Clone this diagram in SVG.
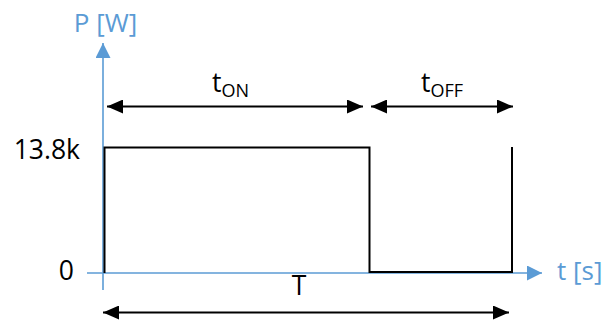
<svg xmlns="http://www.w3.org/2000/svg" width="606" height="320" viewBox="0 0 606 320">
<defs>
<style>
.lbl{font-family:"Open Sans","Liberation Sans",sans-serif;font-size:26.5px;fill:#000}
.ax{font-family:"Open Sans","Liberation Sans",sans-serif;font-size:26px;fill:#5B9BD5}
.sub{font-size:18px}
.axl{stroke:#5B9BD5;stroke-width:1.6;fill:none}
.sig{stroke:#000;stroke-width:2;fill:none}
.dim{stroke:#000;stroke-width:1.8;fill:none}
</style>
<marker id="ah" viewBox="0 0 16 14" refX="16" refY="7" markerWidth="16" markerHeight="14" markerUnits="userSpaceOnUse" orient="auto-start-reverse">
<path d="M0,0 L16,7 L0,14 Z" fill="#000"/>
</marker>
<marker id="bh" viewBox="0 0 15 15" refX="15" refY="7.5" markerWidth="15" markerHeight="15" markerUnits="userSpaceOnUse" orient="auto">
<path d="M0,0 L15,7.5 L0,15 Z" fill="#5B9BD5"/>
</marker>
</defs>
<rect width="606" height="320" fill="#fff"/>
<g id="axes">
<line class="axl" x1="103" y1="290" x2="103" y2="43" marker-end="url(#bh)"/>
<line class="axl" x1="87" y1="273" x2="542" y2="273" marker-end="url(#bh)"/>
<text class="ax" x="105.5" y="32" text-anchor="middle">P [W]</text>
<text class="ax" x="557" y="280">t [s]</text>
</g>
<g id="signal">
<polyline class="sig" points="104.5,273 104.5,147.5 369.5,147.5 369.5,272 512,272 512,147"/>
</g>
<g id="labels">
<text class="lbl" x="80" y="159" text-anchor="end">13.8k</text>
<text class="lbl" x="74" y="280" text-anchor="end">0</text>
<text class="lbl" x="299" y="295" text-anchor="middle">T</text>
<text class="lbl" x="212" y="92">t<tspan class="sub" dy="5">ON</tspan></text>
<text class="lbl" x="421" y="92">t<tspan class="sub" dy="5">OFF</tspan></text>
</g>
<g id="connectors">
<line class="dim" x1="107" y1="106.5" x2="363" y2="106.5" marker-start="url(#ah)" marker-end="url(#ah)"/>
<line class="dim" x1="371" y1="106.5" x2="513" y2="106.5" marker-start="url(#ah)" marker-end="url(#ah)"/>
<line class="dim" x1="103" y1="312.5" x2="509" y2="312.5" marker-start="url(#ah)" marker-end="url(#ah)"/>
</g>
</svg>
